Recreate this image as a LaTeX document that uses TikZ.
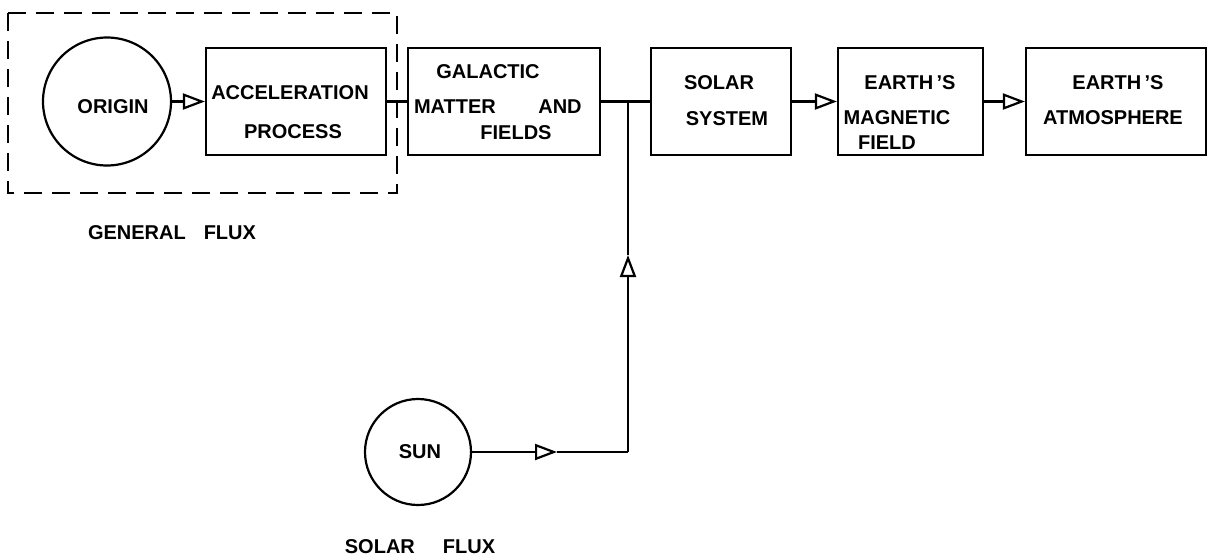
\documentclass[tikz,border=0pt]{standalone}
\usepackage{fontspec}
\setmainfont{Liberation Sans}
\usetikzlibrary{arrows.meta}

\begin{document}
\begin{tikzpicture}[x=1pt, y=-1pt, line width=2.2pt,
  block/.style={draw, rectangle, inner sep=0pt, minimum height=107pt},
  body/.style={draw, circle, inner sep=0pt},
  lbl/.style={inner sep=0pt, font=\bfseries\fontsize{20}{24}\selectfont},
  flow/.style={-{Triangle[length=22pt, width=16pt, fill=white]}}]
\useasboundingbox (0,0) rectangle (1208,558);
% group round the general flux
\draw[dash pattern=on 18pt off 10pt] (8,13) rectangle (397,193);
\node[lbl] (genflux) at (172,233) {GENERAL\hspace{0.9em}FLUX};
\node[body, minimum size=128pt] (origin) at (107,101.5) {};
\node[lbl] (originT) at (113,107) {ORIGIN};
\node[block, minimum width=180pt] (accel) at (296,101.5) {};
\node[lbl] (accelA) at (290,93) {ACCELERATION};
\node[lbl] (accelB) at (293,132) {PROCESS};
\node[block, minimum width=192pt] (galactic) at (504,101.5) {};
\node[lbl] (galA) at (488,72) {GALACTIC};
\node[lbl] (galB) at (455,107) {MATTER};
\node[lbl] (galC) at (560,107) {AND};
\node[lbl] (galD) at (516,133) {FIELDS};
\node[block, minimum width=140pt] (solar) at (721,101.5) {};
\node[lbl] (solarA) at (719,83) {SOLAR};
\node[lbl] (solarB) at (727,119) {SYSTEM};
\node[block, minimum width=145pt] (magnetic) at (910.5,101.5) {};
\node[lbl] (magA) at (910,83) {EARTH\,'S};
\node[lbl] (magB) at (897,118) {MAGNETIC};
\node[lbl] (magC) at (887,143) {FIELD};
\node[block, minimum width=180pt] (atmos) at (1116,101.5) {};
\node[lbl] (atmosA) at (1118,83) {EARTH\,'S};
\node[lbl] (atmosB) at (1113,118) {ATMOSPHERE};
% solar flux
\node[body, minimum size=106pt] (sun) at (418,452) {};
\node[lbl] (sunT) at (420,452) {SUN};
\node[lbl] (solflux) at (420,547) {SOLAR\hspace{1.4em}FLUX};
\coordinate (junc) at (628,101.5);
\coordinate (corner) at (628,452);
\coordinate (sunTip) at (557,452);
\coordinate (upTip) at (628,255);
\draw[flow] (origin.east) -- (accel.west);
\draw (accel) -- (galactic);
\draw (galactic) -- (solar);
\draw[flow] (solar) -- (magnetic);
\draw[flow] (magnetic) -- (atmos);
\draw[flow] (sun) -- (sunTip);
\draw (sunTip) -- (corner);
\draw[flow] (corner) -- (upTip);
\draw (upTip) -- (junc);
\end{tikzpicture}
\end{document}
